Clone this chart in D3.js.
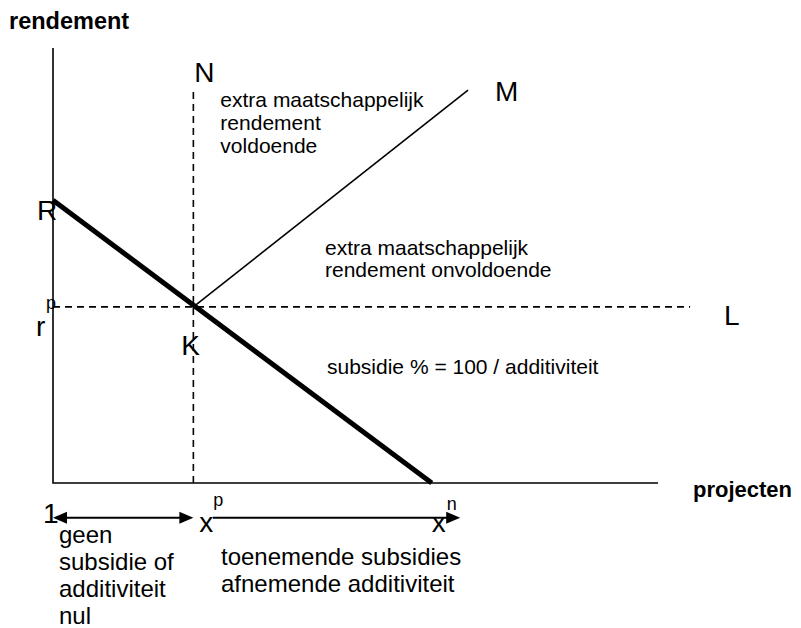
<!DOCTYPE html>
<html>
<head>
<meta charset="utf-8">
<script src="https://cdn.jsdelivr.net/npm/d3@7"></script>
<style>
  body { margin: 0; background: #fff; }
  svg { display: block; font-family: "Liberation Sans", Arial, sans-serif; }
</style>
</head>
<body>
<div id="chart"></div>
<script>
// Diagram points in model units: x = projecten (0..100), y = rendement (0..100)
const axisMax = [100, 100];
const pointR = [0, 65];        // start of the thick line on the y axis
const pointK = [23.2, 40.5];   // intersection of r^p and x^p
const pointXn = [62.6, 0];     // thick line hits the x axis
const pointM = [68.6, 90.3];   // end of the social-return line
const topN = 90.6;             // top of dashed vertical N
const endL = 105.3;            // right end of dashed horizontal L
const arrowY = -8;             // level of the arrows under the axis
const arrowSpans = [[0, 23.2, true], [26.4, 67.3, false]]; // from, to, double head

const notesTop = ['extra maatschappelijk', 'rendement', 'voldoende'];
const notesMid = ['extra maatschappelijk', 'rendement onvoldoende'];
const noteSubsidy = 'subsidie % = 100 / additiviteit';
const notesLeft = ['geen', 'subsidie of', 'additiviteit', 'nul'];
const notesRight = ['toenemende subsidies', 'afnemende additiviteit'];

const width = 801, height = 628;
const svg = d3.select('#chart').append('svg')
  .attr('width', width)
  .attr('height', height);

const x = d3.scaleLinear().domain([0, axisMax[0]]).range([53, 658]);
const y = d3.scaleLinear().domain([0, axisMax[1]]).range([483, 48]);

const line = d3.line().x(d => x(d[0])).y(d => y(d[1]));

// axes
svg.append('path')
  .attr('d', line([[0, axisMax[1]], [0, 0], [axisMax[0], 0]]))
  .attr('fill', 'none').attr('stroke', '#000').attr('stroke-width', 1.6);

// dashed guides
svg.append('path')
  .attr('d', line([[pointK[0], 0], [pointK[0], topN]]))
  .attr('stroke', '#000').attr('stroke-width', 1.6).attr('stroke-dasharray', '7,5');
svg.append('path')
  .attr('d', line([[0, pointK[1]], [endL, pointK[1]]]))
  .attr('stroke', '#000').attr('stroke-width', 1.6).attr('stroke-dasharray', '7,5');

// social return line K -> M
svg.append('path')
  .attr('d', line([pointK, pointM]))
  .attr('stroke', '#000').attr('stroke-width', 1.6);

// private return line R -> x^n
svg.append('path')
  .attr('d', line([pointR, pointXn]))
  .attr('stroke', '#000').attr('stroke-width', 5);

// arrows below the axis
function arrowHead(px, py, dir) {
  const len = 14, half = 6;
  return `M${px},${py} L${px - dir * len},${py - half} L${px - dir * len},${py + half} Z`;
}
arrowSpans.forEach(([from, to, both]) => {
  const x1 = x(from), x2 = x(to), yy = y(arrowY);
  svg.append('line')
    .attr('x1', both ? x1 + 10 : x1).attr('x2', x2 - 10)
    .attr('y1', yy).attr('y2', yy)
    .attr('stroke', '#000').attr('stroke-width', 2);
  svg.append('path').attr('d', arrowHead(x2, yy, 1)).attr('fill', '#000');
  if (both) svg.append('path').attr('d', arrowHead(x1, yy, -1)).attr('fill', '#000');
});

// text helpers
function label(txt, px, py, size, weight) {
  return svg.append('text')
    .attr('x', px).attr('y', py)
    .attr('font-size', size)
    .attr('font-weight', weight || 'normal')
    .text(txt);
}
function block(lines, px, py, size, lh) {
  lines.forEach((t, i) => label(t, px, py + i * lh, size));
}

// axis titles
label('rendement', 9, 29, 23.5, 'bold');
label('projecten', 693, 497, 22, 'bold');

// point letters
label('N', x(pointK[0]) + 1, y(topN) - 7, 28);
label('M', x(pointM[0]) + 27, y(pointM[1]) + 11, 28);
label('L', x(endL) + 34, y(pointK[1]) + 18, 28);
label('R', x(pointR[0]) - 16, y(pointR[1]) + 20, 28);
label('K', x(pointK[0]) - 12, y(pointK[1]) + 48, 28);
label('r', x(0) - 17, y(pointK[1]) + 29, 28);
label('p', x(0) - 7, y(pointK[1]) + 2, 18);

// x axis marks
label('1', x(0) - 10, y(arrowY) + 5, 28);
label('x', x(pointK[0]) + 6, y(arrowY) + 14, 28);
label('p', x(pointK[0]) + 20, y(arrowY) - 12, 18);
label('x', x(pointXn[0]), y(arrowY) + 14, 28);
label('n', x(pointXn[0]) + 15, y(arrowY) - 8, 18);

// notes
block(notesTop, x(pointK[0]) + 27, 107, 21, 23);
block(notesMid, 325, 255, 21, 22);
label(noteSubsidy, 327, 374, 21);
block(notesLeft, 59, 543, 24, 27);
block(notesRight, 221, 565, 24, 27);
</script>
</body>
</html>
